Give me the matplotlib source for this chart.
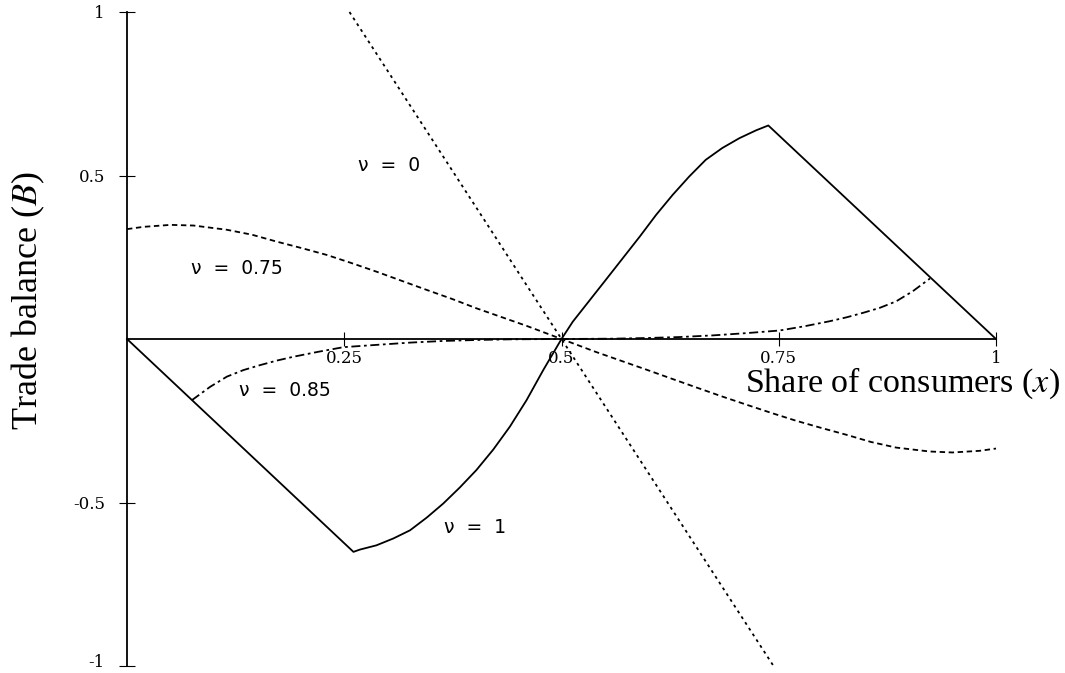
import matplotlib
matplotlib.use("Agg")
import matplotlib.pyplot as plt
from matplotlib.transforms import ScaledTranslation

plt.rcParams['font.family'] = ['Liberation Serif', 'DejaVu Serif']
plt.rcParams['mathtext.fontset'] = 'stix'

# nu = 1 (solid): straight, curved, straight
x_v1 = [0.0, 0.2606, 0.268, 0.287, 0.3065, 0.3257, 0.345, 0.364, 0.383, 0.402,
        0.4215, 0.4406, 0.4598, 0.479, 0.5,
        0.513, 0.532, 0.551, 0.5705, 0.590, 0.609, 0.628, 0.647, 0.666,
        0.685, 0.7046, 0.7238, 0.738, 1.0]
y_v1 = [0.0, -0.651, -0.644, -0.631, -0.610, -0.585, -0.546, -0.503, -0.454, -0.401,
        -0.338, -0.268, -0.187, -0.095, 0.0,
        0.053, 0.117, 0.181, 0.247, 0.313, 0.380, 0.441, 0.497, 0.548,
        0.584, 0.614, 0.638, 0.653, 0.0]

# nu = 0.75 (dashed)
x_v75 = [0.0, 0.019, 0.050, 0.0766, 0.115, 0.1437, 0.172, 0.201, 0.230, 0.2586,
         0.287, 0.316, 0.345, 0.3736, 0.402, 0.431, 0.460, 0.5,
         0.540, 0.569, 0.598, 0.6264, 0.655, 0.684, 0.713, 0.7414, 0.770,
         0.799, 0.828, 0.8563, 0.885, 0.9234, 0.950, 0.981, 1.0]
y_v75 = [0.336, 0.343, 0.349, 0.347, 0.334, 0.319, 0.298, 0.278, 0.257, 0.232,
         0.206, 0.178, 0.150, 0.123, 0.094, 0.067, 0.040, 0.0,
         -0.040, -0.067, -0.094, -0.121, -0.148, -0.175, -0.201, -0.226, -0.250,
         -0.272, -0.293, -0.315, -0.332, -0.344, -0.347, -0.342, -0.335]

# nu = 0.85 (dash-dot)
x_v85 = [0.0747, 0.0958, 0.115, 0.134, 0.153, 0.1724, 0.192, 0.2203, 0.249,
         0.287, 0.326, 0.364, 0.402, 0.441, 0.5,
         0.559, 0.598, 0.636, 0.674, 0.713, 0.751, 0.7797, 0.808, 0.8276,
         0.847, 0.866, 0.885, 0.9042, 0.924]
y_v85 = [-0.187, -0.146, -0.115, -0.095, -0.080, -0.066, -0.054, -0.039, -0.025,
         -0.018, -0.011, -0.006, -0.003, -0.001, 0.0,
         0.001, 0.003, 0.006, 0.011, 0.018, 0.026, 0.039, 0.054, 0.066,
         0.080, 0.095, 0.115, 0.146, 0.185]

# nu = 0 (dotted)
x_v0 = [0.256, 0.5, 0.744]
y_v0 = [1.0, 0.0, -1.0]

labels = ["\u03bd = 0", "\u03bd = 0.75", "\u03bd = 0.85", "\u03bd = 1"]
label_x = [0.302, 0.126, 0.182, 0.400]
label_y = [0.530, 0.217, -0.159, -0.575]

xticks = [0.25, 0.5, 0.75, 1]
xtick_labels = ["0.25", "0.5", "0.75", "1"]
yticks = [-1, -0.5, 0.5, 1]
ytick_labels = ["-1", "-0.5", "0.5", "1"]

fig = plt.figure(figsize=(10.65, 6.73), dpi=100)
ax = fig.add_axes([127 / 1065, 7 / 673, 869 / 1065, 654 / 673])
ax.set_xlim(0, 1)
ax.set_ylim(-1, 1)

ax.plot(x_v1, y_v1, color='black', lw=1.3, clip_on=False)
ax.plot(x_v75, y_v75, color='black', lw=1.3, linestyle=(0, (3, 2)), clip_on=False)
ax.plot(x_v85, y_v85, color='black', lw=1.3, linestyle=(0, (5, 2, 1.5, 2)), clip_on=False)
ax.plot(x_v0, y_v0, color='black', lw=1.3, linestyle=(0, (1.6, 2.2)), clip_on=False)

for t, lx, ly in zip(labels, label_x, label_y):
    ax.text(lx, ly, "  ".join(t.split(" ")), fontsize=13.5, family='DejaVu Sans',
            ha='center', va='center')

# axes through the origin
for s in ['top', 'right']:
    ax.spines[s].set_visible(False)
ax.spines['left'].set_position(('data', 0))
ax.spines['bottom'].set_position(('data', 0))
ax.spines['left'].set_bounds(-1, 1)
ax.spines['bottom'].set_bounds(0, 1)
ax.spines['left'].set_linewidth(1.3)
ax.spines['bottom'].set_linewidth(1.3)

ax.set_xticks(xticks)
ax.set_xticklabels(xtick_labels, family='DejaVu Serif')
ax.set_yticks(yticks)
ax.set_yticklabels(ytick_labels, family='DejaVu Serif')
ax.tick_params(axis='x', direction='inout', length=10, width=0.8, pad=3, labelsize=12)
ax.tick_params(axis='y', direction='inout', length=12, width=0.8, pad=10, labelsize=12)

# keep the bottom "-1" label inside the canvas
lab = ax.get_yticklabels()[0]
lab.set_transform(lab.get_transform() + ScaledTranslation(0, 4 / 72, fig.dpi_scale_trans))

fig.text(1060 / 1065, 1 - 383 / 673, "Share of consumers ($x$)", fontsize=24.5,
         ha='right', va='center')
fig.text(28 / 1065, 1 - 300 / 673, "Trade balance ($B$)", fontsize=26,
         ha='center', va='center', rotation=90)

plt.savefig("out.png", dpi=100)
